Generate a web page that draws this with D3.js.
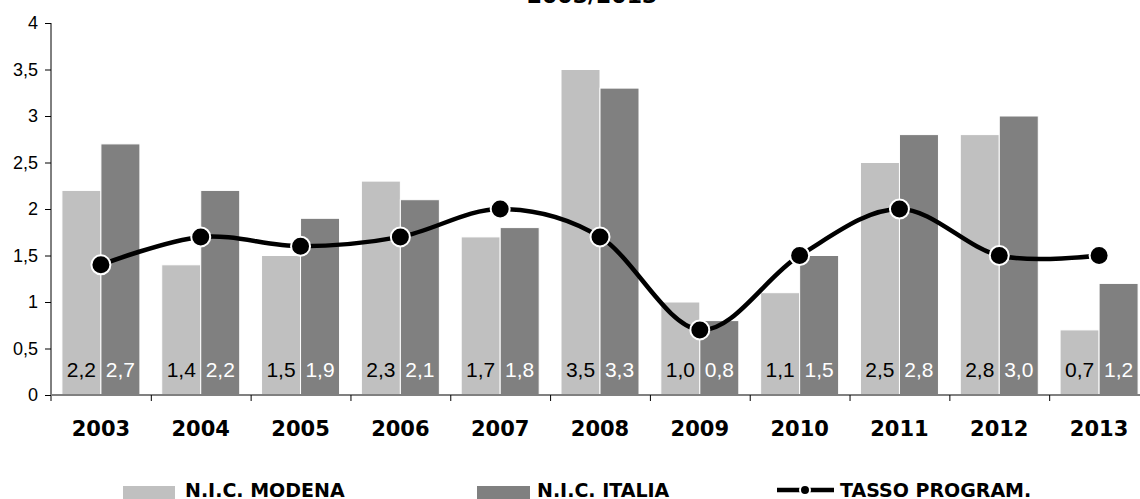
<!DOCTYPE html>
<html>
<head>
<meta charset="utf-8">
<script src="https://cdn.jsdelivr.net/npm/d3@7"></script>
<style>
  html, body { margin: 0; padding: 0; background: #fff; overflow: hidden; }
  svg { display: block; }
</style>
</head>
<body>
<svg id="chart" width="1140" height="499"></svg>
<script>
const years = ["2003","2004","2005","2006","2007","2008","2009","2010","2011","2012","2013"];
const modena = [2.2,1.4,1.5,2.3,1.7,3.5,1.0,1.1,2.5,2.8,0.7];
const italia = [2.7,2.2,1.9,2.1,1.8,3.3,0.8,1.5,2.8,3.0,1.2];
const tasso  = [1.4,1.7,1.6,1.7,2.0,1.7,0.7,1.5,2.0,1.5,1.5];
const yTicks = [0,0.5,1,1.5,2,2.5,3,3.5,4];
const seriesNames = ["N.I.C. MODENA","N.I.C. ITALIA","TASSO PROGRAM."];
const titleText = "2003/2013";

const colLight = "#c0c0c0", colDark = "#808080";
const sans = "'Liberation Sans', Arial, sans-serif";
const bold = "'DejaVu Sans', Verdana, sans-serif";
const svg = d3.select("#chart");
const fmt = v => d3.format(".1f")(v).replace(".", ",");
const fmtTick = v => String(v).replace(".", ",");

const x = d3.scaleBand().domain(years).range([51, 1149]).paddingInner(0).paddingOuter(0);
const y = d3.scaleLinear().domain([0, 4]).range([395, 23]);
const cx = d => x(d) + x.bandwidth() / 2;
const bw = 39;

// title (partially clipped, as in the reference)
svg.append("text").attr("x", 592).attr("y", 3).attr("text-anchor", "middle")
  .attr("font-family", bold).attr("font-weight", "bold").attr("font-size", 22)
  .text(titleText);

// bars
const g = svg.append("g");
years.forEach((yr, i) => {
  g.append("rect").attr("x", cx(yr) - bw).attr("y", y(modena[i]))
    .attr("width", bw).attr("height", y(0) - y(modena[i]))
    .attr("fill", colLight).attr("stroke", "#fff").attr("stroke-width", 1);
  g.append("rect").attr("x", cx(yr)).attr("y", y(italia[i]))
    .attr("width", bw).attr("height", y(0) - y(italia[i]))
    .attr("fill", colDark).attr("stroke", "#fff").attr("stroke-width", 1);
});

// y axis
const yAxis = d3.axisLeft(y).tickValues(yTicks).tickFormat(fmtTick).tickSize(6).tickPadding(7);
const ya = svg.append("g").attr("transform", "translate(51,0)").call(yAxis);
ya.select(".domain").attr("stroke", "#000").attr("d", "M0,23V401");
ya.selectAll(".tick line").attr("stroke", "#000");
ya.selectAll(".tick text").attr("font-family", sans).attr("font-size", 18).attr("fill", "#000");

// x axis line
svg.append("line").attr("x1", 51).attr("x2", 1149).attr("y1", y(0)).attr("y2", y(0))
  .attr("stroke", "#808080").attr("stroke-width", 2);
years.forEach((yr, i) => {
  if (i === 0) return;
  svg.append("line").attr("x1", x(yr) + 0.5).attr("x2", x(yr) + 0.5)
    .attr("y1", y(0)).attr("y2", y(0) + 6).attr("stroke", "#000").attr("stroke-width", 1);
});
svg.append("g").selectAll("text").data(years).join("text")
  .attr("x", d => cx(d)).attr("y", 436).attr("text-anchor", "middle")
  .attr("font-family", bold).attr("font-weight", "bold").attr("font-size", 21)
  .text(d => d);

// value labels
years.forEach((yr, i) => {
  svg.append("text").attr("x", cx(yr) - bw / 2).attr("y", 377).attr("text-anchor", "middle")
    .attr("font-family", sans).attr("font-size", 21).attr("fill", "#000")
    .text(fmt(modena[i]));
  svg.append("text").attr("x", cx(yr) + bw / 2).attr("y", 377).attr("text-anchor", "middle")
    .attr("font-family", sans).attr("font-size", 21).attr("fill", "#fff")
    .text(fmt(italia[i]));
});

// line
const line = d3.line().x((d, i) => cx(years[i])).y(d => y(d)).curve(d3.curveCardinal.tension(0));
svg.append("path").datum(tasso).attr("d", line).attr("fill", "none")
  .attr("stroke", "#000").attr("stroke-width", 4.5);
svg.append("g").selectAll("circle").data(tasso).join("circle")
  .attr("cx", (d, i) => cx(years[i])).attr("cy", d => y(d)).attr("r", 9.5)
  .attr("fill", "#000").attr("stroke", "#fff").attr("stroke-width", 2);

// legend
const leg = svg.append("g");
leg.append("rect").attr("x", 123).attr("y", 486).attr("width", 52).attr("height", 20).attr("fill", colLight);
leg.append("rect").attr("x", 477).attr("y", 486).attr("width", 53).attr("height", 20).attr("fill", colDark);
leg.append("line").attr("x1", 777).attr("x2", 834).attr("y1", 490).attr("y2", 490)
  .attr("stroke", "#000").attr("stroke-width", 4.5);
leg.append("circle").attr("cx", 805).attr("cy", 490).attr("r", 5).attr("fill", "#000")
  .attr("stroke", "#fff").attr("stroke-width", 2);
const legX = [185, 537, 840];
seriesNames.forEach((n, i) => {
  leg.append("text").attr("x", legX[i]).attr("y", 497)
    .attr("font-family", bold).attr("font-weight", "bold").attr("font-size", 19)
    .text(n);
});
</script>
</body>
</html>
